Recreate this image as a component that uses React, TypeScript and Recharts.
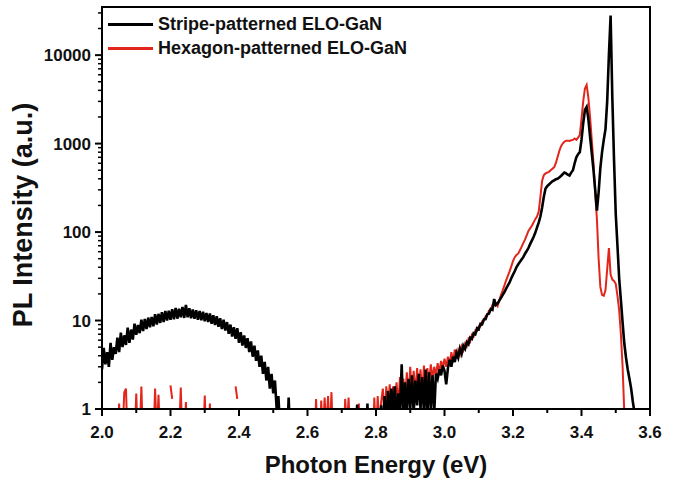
import React from 'react';
import { LineChart, Line, XAxis, YAxis, ReferenceArea } from 'recharts';

// energy grid: 2.000 .. 3.560 eV, 0.005 eV apart
const ENERGY_START = 2.0;
const ENERGY_STEP = 0.005;

// Stripe-patterned ELO-GaN, one row = 0.05 eV
const stripe: (number | null)[] = [
  2.8, 4.9, 3.2, 4.4, 3.0, 5.6, 3.6, 5.0, 4.2, 6.4, // 2.00
  4.4, 7.3, 5.0, 6.8, 5.3, 8.3, 5.6, 7.9, 6.1, 9.2, // 2.05
  6.9, 8.9, 7.2, 10.2, 7.6, 10.4, 8.0, 10.8, 8.4, 11.0, // 2.10
  8.6, 11.8, 9.0, 11.9, 9.4, 12.4, 9.6, 12.8, 10.0, 12.9, // 2.15
  10.2, 13.4, 10.3, 13.9, 10.5, 13.6, 10.9, 14.2, 10.7, 15.0, // 2.20
  10.9, 13.8, 10.6, 13.3, 10.5, 13.1, 10.2, 12.8, 10.1, 12.6, // 2.25
  9.8, 12.2, 9.6, 12.0, 9.2, 11.5, 8.9, 11.2, 8.5, 10.6, // 2.30
  8.0, 10.2, 7.7, 9.6, 7.1, 9.0, 6.6, 8.4, 6.2, 8.2, // 2.35
  5.6, 7.4, 5.2, 6.8, 4.9, 6.3, 4.4, 5.8, 3.9, 5.2, // 2.40
  3.5, 4.6, 3.0, 4.0, 2.5, 3.4, 2.1, 3.0, 1.7, 2.5, // 2.45
  1.5, 2.1, 1.0, 1.4, 0.6, 0.4, 0.3, 0.3, 0.4, 1.35, // 2.50
  0.4, 0.3, 0.3, 0.3, 0.3, 0.3, 0.3, 0.3, 0.3, 0.3, // 2.55
  0.3, 0.3, 0.3, 0.3, 0.3, 0.3, 0.3, 0.3, 0.3, 0.3, // 2.60
  0.3, 0.3, 0.3, 0.3, 0.3, 0.3, 0.3, 0.3, 0.3, 0.3, // 2.65
  0.3, 0.3, 0.3, 0.3, 0.3, 0.3, 0.3, 0.3, 0.3, 1.12, // 2.70
  0.3, 0.3, 0.3, 0.3, 0.3, 1.15, 0.3, 0.3, 0.3, 0.3, // 2.75
  0.4, 0.5, 0.3, 1.1, 0.5, 1.4, 0.6, 1.6, 0.8, 1.7, // 2.80
  0.9, 1.8, 0.7, 1.5, 0.9, 3.2, 0.8, 2.0, 0.9, 2.2, // 2.85
  1.0, 2.4, 0.9, 2.1, 1.1, 2.5, 1.0, 2.3, 0.9, 2.8, // 2.90
  0.8, 2.6, 1.0, 2.4, 0.9, 2.5, 2.2, 2.8, 2.4, 3.1, // 2.95
  2.7, 1.9, 2.9, 3.6, 3.0, 3.9, 3.4, 4.3, 3.8, 4.8, // 3.00
  4.2, 5.2, 4.8, 5.7, 5.4, 6.4, 6.2, 7.2, 7.0, 8.2, // 3.05
  8.0, 9.2, 9.1, 10.3, 10.4, 11.8, 12.0, 13.5, 13.2, 17.5, // 3.10
  15.0, 15.6, 16.8, 18.0, 19.5, 21.0, 23.0, 25.0, 27.0, 30.0, // 3.15
  33, 36, 40, 43, 46, 49, 52, 57, 61, 66, // 3.20
  73, 80, 88, 98, 112, 128, 150, 190, 250, 310, // 3.25
  330, 345, 360, 375, 385, 395, 400, 415, 430, 450, // 3.30
  470, 460, 445, 436, 470, 500, 600, 700, 760, 800, // 3.35
  1100, 1700, 2400, 2600, 1900, 1200, 780, 500, 300, 175, // 3.40
  280, 530, 800, 1100, 1450, 3000, 10000, 28000, 3300, 650, // 3.45
  160, 70, 30, 17, 9.5, 5.5, 3.8, 2.8, 2.2, 1.7, // 3.50
  1.2, 0.9, 0.5, // 3.55
];

// Hexagon-patterned ELO-GaN (null = no reading)
const hexagon: (number | null)[] = [
  0.3, 0.3, 0.3, 0.3, 0.3, 0.3, 0.3, 0.3, 0.3, 0.4, // 2.00
  1.15, 0.4, 0.5, 1.55, 1.7, 0.4, 0.3, 0.6, 0.3, 0.4, // 2.05
  1.5, 0.4, 0.5, 1.8, 0.4, 0.3, 0.3, 0.3, 0.3, 0.3, // 2.10
  0.4, 1.7, 0.5, 1.45, 0.4, 0.3, 0.3, 0.3, 0.3, null, // 2.15
  1.85, 1.3, null, 0.4, 0.3, 0.5, 1.75, 0.4, 0.3, 1.2, // 2.20
  0.3, 0.3, 0.3, 0.3, 0.3, 0.3, 0.3, 0.3, 0.3, 0.3, // 2.25
  1.42, 0.4, 0.3, 1.15, 0.3, 0.3, 0.3, 0.3, 0.3, 0.3, // 2.30
  0.3, 0.3, 0.3, 0.3, 0.3, 0.3, 0.3, null, 1.8, 1.3, // 2.35
  null, 0.3, 0.3, 0.3, 0.3, 0.3, 0.3, 0.3, 0.3, 0.3, // 2.40
  0.3, 0.3, 0.3, 0.3, 0.3, 0.3, 0.3, 0.3, 0.3, 0.3, // 2.45
  0.3, 0.3, 0.3, 0.3, 0.3, 0.3, 0.3, 0.3, 0.3, 0.3, // 2.50
  0.3, 0.3, 0.3, 0.3, 0.3, 0.3, 0.3, 0.3, 0.3, 0.3, // 2.55
  0.3, 0.3, 0.3, 0.3, 0.3, 1.3, 0.4, 0.3, 1.25, 0.5, // 2.60
  1.35, 0.6, 1.4, 0.5, 1.55, 0.4, 0.3, 0.3, 0.3, 0.3, // 2.65
  0.3, 0.3, 1.3, 0.6, 1.35, 0.4, 0.3, 0.3, 0.3, 0.3, // 2.70
  1.15, 0.3, 0.3, 0.3, 0.3, 0.3, 0.3, 0.3, 0.3, 1.35, // 2.75
  0.5, 1.4, 0.6, 1.2, 1.7, 0.8, 1.8, 1.0, 1.9, 1.1, // 2.80
  1.8, 1.2, 2.0, 1.1, 2.3, 1.2, 2.2, 1.3, 2.6, 1.2, // 2.85
  3.0, 1.4, 2.7, 1.5, 2.9, 1.6, 2.8, 1.5, 3.1, 1.7, // 2.90
  2.9, 1.9, 3.2, 2.2, 3.0, 2.4, 3.3, 2.6, 3.5, 2.9, // 2.95
  3.7, 3.0, 3.9, 3.2, 4.4, 3.4, 4.7, 3.7, 4.6, 4.1, // 3.00
  5.1, 4.6, 5.5, 5.1, 6.2, 5.8, 6.9, 6.6, 7.7, 7.6, // 3.05
  8.6, 8.6, 9.8, 10.0, 11.2, 11.5, 13.0, 13.2, 15.0, 14.8, // 3.10
  15.5, 14.5, 17.0, 19.5, 22.0, 25.0, 28.5, 32.0, 36.0, 41.0, // 3.15
  47, 52, 55, 57, 62, 68, 75, 82, 92, 103, // 3.20
  110, 118, 128, 140, 150, 170, 250, 380, 440, 460, // 3.25
  470, 480, 500, 520, 540, 600, 700, 820, 930, 1000, // 3.30
  1050, 1080, 1080, 1070, 1090, 1100, 1140, 1100, 1170, 1250, // 3.35
  1900, 3000, 4200, 4600, 3300, 2000, 1100, 600, 280, 140, // 3.40
  50, 24, 19.5, 19, 22, 38, 66, 33, 29, 28, // 3.45
  26, 19, 13, 7, 3, 0.9, 0.3, 0.3, 0.3, 0.3, // 3.50
  0.3, 0.3, 0.3, // 3.55
];

const xTicks = [2.0, 2.1, 2.2, 2.3, 2.4, 2.5, 2.6, 2.7, 2.8, 2.9, 3.0, 3.1, 3.2, 3.3, 3.4, 3.5, 3.6];
const yTicks = [
  1, 2, 3, 4, 5, 6, 7, 8, 9,
  10, 20, 30, 40, 50, 60, 70, 80, 90,
  100, 200, 300, 400, 500, 600, 700, 800, 900,
  1000, 2000, 3000, 4000, 5000, 6000, 7000, 8000, 9000,
  10000, 20000, 30000,
];

const data = stripe.map((s, i) => ({
  e: ENERGY_START + i * ENERGY_STEP,
  stripe: s,
  hexagon: hexagon[i],
}));

const FONT = '"Liberation Sans", Arial, sans-serif';

const XTick = ({ x, y, payload }: any) => {
  const v = payload.value as number;
  const major = Math.round(v * 10) % 2 === 0;
  return (
    <g>
      <line x1={x} x2={x} y1={y} y2={y + (major ? 7 : 4)} stroke="#000" strokeWidth={2} />
      {major && (
        <text x={x} y={y + 29} textAnchor="middle" fontFamily={FONT} fontWeight="bold" fontSize={17} fill="#111">
          {v.toFixed(1)}
        </text>
      )}
    </g>
  );
};

const YTick = ({ x, y, payload }: any) => {
  const v = payload.value as number;
  const lg = Math.log10(v);
  const major = Math.abs(lg - Math.round(lg)) < 1e-6;
  return (
    <g>
      <line x1={x - (major ? 7 : 4)} x2={x} y1={y} y2={y} stroke="#000" strokeWidth={major ? 2 : 1.5} />
      {major && (
        <text x={x - 11} y={y + 6} textAnchor="end" fontFamily={FONT} fontWeight="bold" fontSize={17} fill="#111">
          {v}
        </text>
      )}
    </g>
  );
};

export default function App() {
  return (
    <div style={{ position: 'absolute', left: 0, top: 0, width: 683, height: 483, background: '#fff' }}>
      <LineChart width={683} height={483} data={data} margin={{ top: 7, right: 33, bottom: 0, left: 0 }}>
        <XAxis
          dataKey="e"
          type="number"
          domain={[2.0, 3.6]}
          allowDataOverflow
          ticks={xTicks}
          interval={0}
          tickSize={0}
          tickMargin={0}
          tick={<XTick />}
          axisLine={{ stroke: '#000', strokeWidth: 2 }}
          height={74}
        />
        <YAxis
          type="number"
          scale="log"
          domain={[1, 35000]}
          allowDataOverflow
          ticks={yTicks}
          interval={0}
          tickSize={0}
          tickMargin={0}
          tick={<YTick />}
          axisLine={{ stroke: '#000', strokeWidth: 2 }}
          width={102}
        />
        <ReferenceArea x1={2.0} x2={3.6} y1={1} y2={35000} fill="none" fillOpacity={0} stroke="#000" strokeWidth={2} />
        <Line
          type="linear"
          dataKey="hexagon"
          stroke="#e3261c"
          strokeWidth={2}
          dot={false}
          connectNulls={false}
          isAnimationActive={false}
        />
        <Line
          type="linear"
          dataKey="stripe"
          stroke="#000"
          strokeWidth={2.6}
          dot={false}
          connectNulls={false}
          isAnimationActive={false}
        />
      </LineChart>

      {/* legend */}
      <div style={{ position: 'absolute', left: 108, top: 23, width: 45, height: 3, background: '#000' }} />
      <div style={{ position: 'absolute', left: 158, top: 13, fontFamily: FONT, fontWeight: 'bold', fontSize: 18, lineHeight: '22px', color: '#111', whiteSpace: 'nowrap' }}>
        Stripe-patterned ELO-GaN
      </div>
      <div style={{ position: 'absolute', left: 108, top: 47, width: 45, height: 3, background: '#e3261c' }} />
      <div style={{ position: 'absolute', left: 158, top: 37, fontFamily: FONT, fontWeight: 'bold', fontSize: 18, lineHeight: '22px', color: '#111', whiteSpace: 'nowrap' }}>
        Hexagon-patterned ELO-GaN
      </div>

      {/* axis titles */}
      <div style={{ position: 'absolute', left: 176, top: 451, width: 400, textAlign: 'center', fontFamily: FONT, fontWeight: 'bold', fontSize: 24, lineHeight: '28px', color: '#111' }}>
        Photon Energy (eV)
      </div>
      <div
        style={{
          position: 'absolute',
          left: 23 - 150,
          top: 215 - 16,
          width: 300,
          textAlign: 'center',
          transform: 'rotate(-90deg)',
          fontFamily: FONT,
          fontWeight: 'bold',
          fontSize: 27,
          lineHeight: '32px',
          color: '#111',
        }}
      >
        PL Intensity (a.u.)
      </div>
    </div>
  );
}
